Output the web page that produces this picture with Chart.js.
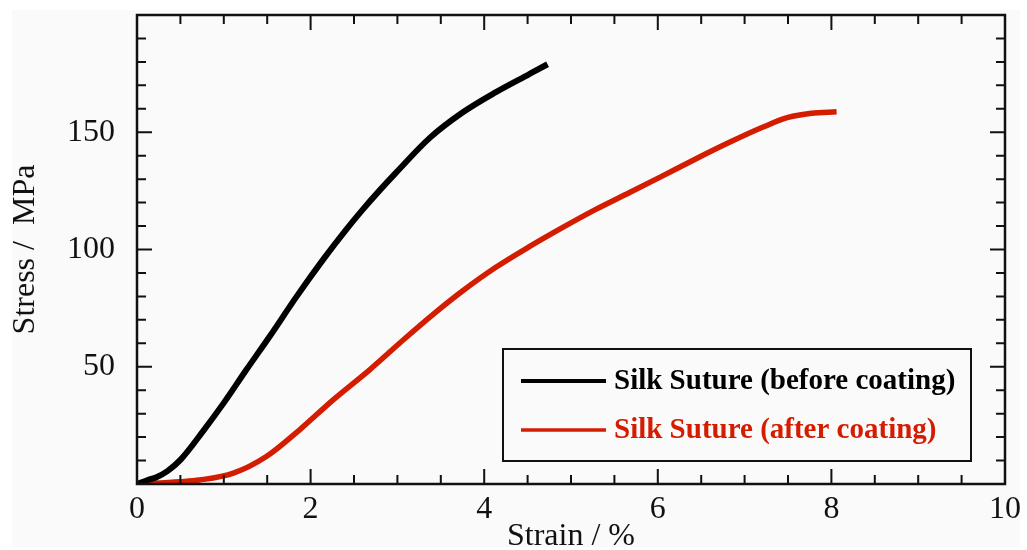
<!DOCTYPE html>
<html>
<head>
<meta charset="utf-8">
<script src="https://cdn.jsdelivr.net/npm/chart.js@4"></script>
<style>
  html, body { margin: 0; padding: 0; background: #ffffff; }
  #wrap { width: 1027px; height: 550px; }
</style>
</head>
<body>
<div id="wrap"><canvas id="chart" width="1027" height="550"></canvas></div>
<script>
// stress-strain curves
const beforeStrain = [0, 0.11, 0.23, 0.35, 0.5, 0.77, 1.0, 1.26, 1.53, 1.84, 2.15, 2.41, 2.6, 2.79, 2.99, 3.37, 3.75, 4.13, 4.52, 4.73];
const beforeStress = [0, 1.5, 3.0, 5.5, 10.3, 23, 34.6, 48.7, 63, 80, 96, 108.5, 117, 125, 133, 147.5, 158.4, 167, 174.8, 179];

const afterStrain = [0, 0.5, 0.72, 1.11, 1.49, 1.87, 2.26, 2.68, 3.07, 3.45, 3.75, 4.13, 4.52, 4.9, 5.28, 5.67, 6.05, 6.43, 6.82, 7.2, 7.5, 7.77, 8.06];
const afterStress = [0, 1.0, 1.7, 4.6, 11.7, 23, 35.9, 48.7, 61.5, 73.5, 82.3, 92.3, 101.2, 109.3, 117, 124.2, 131.3, 138.5, 145.6, 152, 156.3, 158.1, 158.7];

const seriesLabels = ["Silk Suture (before coating)", "Silk Suture (after coating)"];
const xMajorTicks = [0, 2, 4, 6, 8, 10];
const yMajorTicks = [50, 100, 150];

const RED = "rgb(212, 28, 0)";
const FONT = "'Liberation Serif', 'DejaVu Serif', serif";

const toXY = (xs, ys) => xs.map((x, i) => ({ x, y: ys[i] }));

// light grey photo background
const bgPlugin = {
  id: "bg",
  beforeDraw(chart) {
    const c = chart.ctx;
    c.save();
    c.fillStyle = "#fafafa";
    c.fillRect(12, 10, 1008, 537);
    c.restore();
  }
};

// frame + inward ticks on all four sides
const frameTicks = {
  id: "frameTicks",
  afterDatasetsDraw(chart) {
    const { ctx: c, chartArea: a, scales } = chart;
    c.save();
    c.strokeStyle = "#111";
    c.lineWidth = 2;
    scales.x.ticks.forEach(t => {
      const px = scales.x.getPixelForValue(t.value);
      const len = t.value % 2 === 0 ? 15 : 9;
      c.beginPath();
      c.moveTo(px, a.bottom); c.lineTo(px, a.bottom - len);
      c.moveTo(px, a.top); c.lineTo(px, a.top + len);
      c.stroke();
    });
    scales.y.ticks.forEach(t => {
      const py = scales.y.getPixelForValue(t.value);
      const len = t.value % 50 === 0 ? 15 : 9;
      c.beginPath();
      c.moveTo(a.left, py); c.lineTo(a.left + len, py);
      c.moveTo(a.right, py); c.lineTo(a.right - len, py);
      c.stroke();
    });
    c.lineWidth = 2.5;
    c.strokeRect(a.left, a.top, a.right - a.left, a.bottom - a.top);
    c.restore();
  }
};

// boxed legend inside the plot, lower right
const boxLegend = {
  id: "boxLegend",
  afterDraw(chart) {
    const c = chart.ctx;
    const box = { x: 503, y: 349, w: 468, h: 112 };
    c.save();
    c.fillStyle = "#fafafa";
    c.fillRect(box.x, box.y, box.w, box.h);
    c.strokeStyle = "#111";
    c.lineWidth = 2;
    c.strokeRect(box.x, box.y, box.w, box.h);
    c.font = "bold 29px " + FONT;
    c.textBaseline = "middle";
    chart.data.datasets.forEach((ds, i) => {
      const y = 381 + i * 49;
      c.strokeStyle = ds.borderColor;
      c.lineWidth = i === 0 ? 4 : 3.5;
      c.beginPath();
      c.moveTo(521, y); c.lineTo(606, y);
      c.stroke();
      c.fillStyle = ds.borderColor;
      c.fillText(ds.label, 614, y + 1);
    });
    c.restore();
  }
};

new Chart(document.getElementById("chart"), {
  type: "line",
  data: {
    datasets: [
      {
        label: seriesLabels[0],
        data: toXY(beforeStrain, beforeStress),
        borderColor: "#000000",
        borderWidth: 6,
        pointRadius: 0,
        cubicInterpolationMode: "monotone"
      },
      {
        label: seriesLabels[1],
        data: toXY(afterStrain, afterStress),
        borderColor: RED,
        borderWidth: 5.5,
        pointRadius: 0,
        cubicInterpolationMode: "monotone"
      }
    ]
  },
  options: {
    responsive: false,
    animation: false,
    layout: { padding: { top: 15, right: 20, left: 0, bottom: 0 } },
    plugins: {
      legend: { display: false },
      tooltip: { enabled: false }
    },
    scales: {
      x: {
        type: "linear",
        min: 0,
        max: 10,
        afterFit: (s) => { s.height = 66; },
        afterBuildTicks: (s) => {
          const t = [];
          for (let v = 0; v <= 10; v += 0.5) t.push({ value: v });
          s.ticks = t;
        },
        ticks: {
          autoSkip: false,
          maxRotation: 0,
          padding: 6,
          color: "#111",
          font: { family: FONT, size: 32 },
          callback: (v) => xMajorTicks.includes(v) ? String(v) : ""
        },
        grid: { drawOnChartArea: false, drawTicks: false },
        border: { display: false },
        title: {
          display: true,
          text: "Strain / %",
          color: "#111",
          font: { family: FONT, size: 32, lineHeight: 1 },
          padding: { top: 0, bottom: -3 }
        }
      },
      y: {
        type: "linear",
        min: 0,
        max: 200,
        afterFit: (s) => { s.width = 137; s.paddingTop = 0; s.paddingBottom = 0; },
        afterBuildTicks: (s) => {
          const t = [];
          for (let v = 0; v <= 200; v += 10) t.push({ value: v });
          s.ticks = t;
        },
        ticks: {
          autoSkip: false,
          padding: 22,
          color: "#111",
          font: { family: FONT, size: 32 },
          callback: (v) => yMajorTicks.includes(v) ? String(v) : ""
        },
        grid: { drawOnChartArea: false, drawTicks: false },
        border: { display: false },
        title: {
          display: true,
          text: "Stress /  MPa",
          color: "#111",
          font: { family: FONT, size: 32, lineHeight: 1.2 },
          padding: { top: 6, bottom: 4 }
        }
      }
    }
  },
  plugins: [bgPlugin, frameTicks, boxLegend]
});
</script>
</body>
</html>
